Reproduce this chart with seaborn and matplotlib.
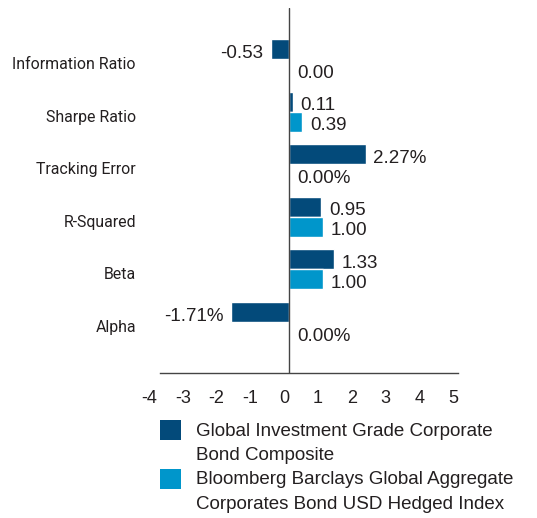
import numpy as np
import pandas as pd
import matplotlib
matplotlib.use("Agg")
import matplotlib.pyplot as plt
import matplotlib.transforms as mtrans
from matplotlib.patches import Rectangle
import seaborn as sns

# data
metrics = ["Information Ratio", "Sharpe Ratio", "Tracking Error", "R-Squared", "Beta", "Alpha"]
series = ["Global Investment Grade Corporate\nBond Composite",
          "Bloomberg Barclays Global Aggregate\nCorporates Bond USD Hedged Index"]
composite = [-0.53, 0.11, 2.27, 0.95, 1.33, -1.71]
index_vals = [0.00, 0.39, 0.00, 1.00, 1.00, 0.00]
composite_lbl = ["-0.53", "0.11", "2.27%", "0.95", "1.33", "-1.71%"]
index_lbl = ["0.00", "0.39", "0.00%", "1.00", "1.00", "0.00%"]
colors = ["#034a7a", "#0096cb"]
xticks = [-4, -3, -2, -1, 0, 1, 2, 3, 4, 5]

df = pd.DataFrame({
    "metric": metrics * 2,
    "value": composite + index_vals,
    "series": [series[0]] * len(metrics) + [series[1]] * len(metrics),
})

sns.set_theme(style="white")
plt.rcParams["font.family"] = ["Liberation Sans", "DejaVu Sans"]
txt = "#231f20"
W, H = 537, 518

fig = plt.figure(figsize=(W / 100, H / 100), dpi=100)
ax = fig.add_axes([154 / W, 145 / H, 304 / W, 365 / H])

sns.barplot(data=df, y="metric", x="value", hue="series", order=metrics,
            hue_order=series, palette=colors, orient="h", width=0.76,
            saturation=1, ax=ax, legend=False)

ax.set_xlim(-4, 5)
ax.set_ylim(5.97, -0.97)
ax.set_xticks(xticks)
ax.set_xticklabels([str(t) for t in xticks], fontsize=13, color=txt)
ax.tick_params(axis="x", length=0, pad=12)
ax.tick_params(axis="y", length=0, pad=13)
for lab in ax.get_xticklabels():
    lab.set_transform(lab.get_transform() + mtrans.ScaledTranslation(-5 / 100, 0, fig.dpi_scale_trans))
for lab in ax.get_yticklabels():
    # narrower face to approximate the condensed category font
    lab.set_fontfamily(["Roboto", "DejaVu Sans"])
    lab.set_fontsize(11.4)
    lab.set_color(txt)
    lab.set_transform(lab.get_transform() + mtrans.ScaledTranslation(0, -4 / 100, fig.dpi_scale_trans))
ax.set_xlabel("")
ax.set_ylabel("")
for s in ["top", "right", "left"]:
    ax.spines[s].set_visible(False)
ax.spines["bottom"].set_color("#444444")
ax.spines["bottom"].set_linewidth(1.0)
ax.spines["bottom"].set_bounds(-3.82, 5)
ax.axvline(0, color="#444444", lw=1.0, zorder=5)

for cont, lbls in zip(ax.containers, [composite_lbl, index_lbl]):
    anns = ax.bar_label(cont, labels=lbls, padding=5.5, fontsize=13.5, color=txt)
    for a in anns:
        a.xyann = (a.xyann[0], -3)

# legend: square aligned with the first line of each two-line label
for i, (name, col) in enumerate(zip(series, colors)):
    top = 420 + i * 49
    fig.add_artist(Rectangle((160 / W, 1 - (top + 20) / H), 21 / W, 20 / H,
                             transform=fig.transFigure, color=col, lw=0))
    for j, line in enumerate(name.split("\n")):
        fig.text(196 / W, 1 - (top + 11 + j * 24.5) / H, line, fontsize=13.5,
                 color=txt, va="center", ha="left")

fig.savefig("out.png", dpi=100)
